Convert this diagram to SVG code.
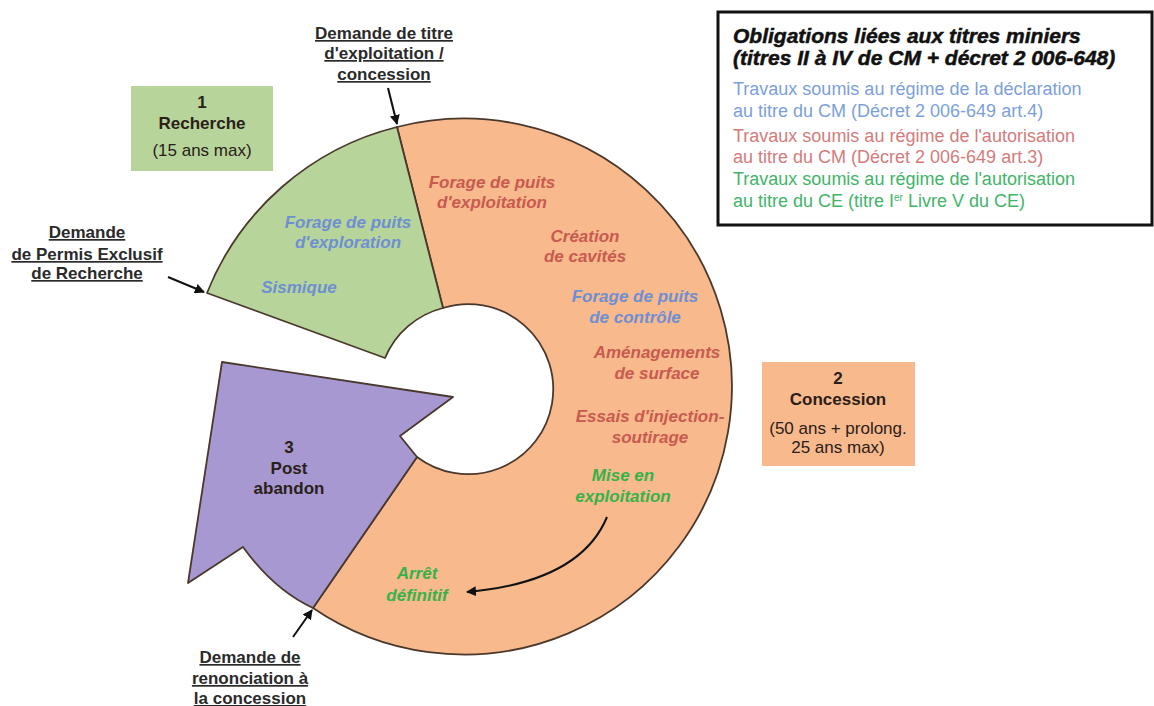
<svg xmlns="http://www.w3.org/2000/svg" width="1154" height="706" viewBox="0 0 1154 706">
<defs>
<marker id="ah" viewBox="0 0 10 10" refX="9" refY="5" markerWidth="5" markerHeight="5" orient="auto-start-reverse" markerUnits="strokeWidth">
<path d="M0,0 L10,5 L0,10 z" fill="#111"/>
</marker>
<style>
.shape{stroke:#4a382c;stroke-width:1.8;stroke-linejoin:round}
.lbl{font-family:"Liberation Sans",Arial,sans-serif;font-size:17px;font-weight:bold;fill:#2a2a2a;text-anchor:middle;text-decoration:underline}
.box{font-family:"Liberation Sans",Arial,sans-serif;font-size:17px;font-weight:bold;fill:#2a2018;text-anchor:middle}
.boxr{font-weight:normal}
.ring{font-family:"Liberation Sans",Arial,sans-serif;font-size:17px;font-weight:bold;font-style:italic;text-anchor:middle}
.blue{fill:#6e8fd2}
.red{fill:#c85a50}
.green{fill:#36b24a}
.lt{font-family:"Liberation Sans",Arial,sans-serif;font-size:21px;font-weight:bold;font-style:italic;fill:#111;stroke:#111;stroke-width:0.5}
.lb{font-family:"Liberation Sans",Arial,sans-serif;font-size:18px}
.conn{stroke:#111;stroke-width:2;fill:none;marker-end:url(#ah)}
</style>
</defs>
<rect width="1154" height="706" fill="#fff"/>

<g id="legend">
<rect x="718" y="12" width="434" height="213" fill="#fff" stroke="#111" stroke-width="3"/>
<text class="lt" x="733" y="43">Obligations liées aux titres miniers</text>
<text class="lt" x="733" y="65">(titres II à IV de CM + décret 2 006-648)</text>
<text class="lb" x="733" y="95" fill="#7c9fdb">Travaux soumis au régime de la déclaration</text>
<text class="lb" x="733" y="117" fill="#7c9fdb">au titre du CM (Décret 2 006-649 art.4)</text>
<text class="lb" x="733" y="142" fill="#d47b7b">Travaux soumis au régime de l'autorisation</text>
<text class="lb" x="733" y="163" fill="#d47b7b">au titre du CM (Décret 2 006-649 art.3)</text>
<text class="lb" x="733" y="185" fill="#42b468">Travaux soumis au régime de l'autorisation</text>
<text class="lb" x="733" y="207" fill="#42b468">au titre du CE (titre I<tspan font-size="10" dy="-6">er</tspan><tspan dy="6"> Livre V du CE)</tspan></text>
</g>

<g id="phase-concession">
<path class="shape" fill="#f8b98c" d="M397,127 A268,268 0 1 1 313,608 L417,457 A85,85 0 1 0 443,308 Z"/>
</g>

<g id="phase-recherche">
<path class="shape" fill="#b7d49b" d="M397,127 L443,308 A86,86 0 0 0 385,358 L207,293 A276,276 0 0 1 397,127 Z"/>
</g>

<g id="phase-post-abandon">
<path class="shape" fill="#a898d2" d="M222,362 L453,397 L400,436 L417,457 L313,608 Q274,590 243,547 L188,583 Z"/>
<text class="box" x="289" y="453">3</text>
<text class="box" x="289" y="474">Post</text>
<text class="box" x="289" y="494">abandon</text>
</g>

<g id="box-recherche">
<rect x="131" y="86" width="142" height="85" fill="#b7d49b"/>
<text class="box" x="202" y="108">1</text>
<text class="box" x="202" y="129">Recherche</text>
<text class="box boxr" x="202" y="156">(15 ans max)</text>
</g>

<g id="box-concession">
<rect x="762" y="362" width="153" height="104" fill="#f8b98c"/>
<text class="box" x="838" y="384">2</text>
<text class="box" x="838" y="405">Concession</text>
<text class="box boxr" x="838" y="434">(50 ans + prolong.</text>
<text class="box boxr" x="838" y="453">25 ans max)</text>
</g>

<g id="works">
<text class="ring blue" x="348" y="228">Forage de puits</text>
<text class="ring blue" x="348" y="248">d'exploration</text>
<text class="ring blue" x="299" y="293">Sismique</text>
<text class="ring red" x="492" y="188">Forage de puits</text>
<text class="ring red" x="492" y="208">d'exploitation</text>
<text class="ring red" x="585" y="242">Création</text>
<text class="ring red" x="585" y="262">de cavités</text>
<text class="ring blue" x="635" y="302">Forage de puits</text>
<text class="ring blue" x="635" y="323">de contrôle</text>
<text class="ring red" x="657" y="358">Aménagements</text>
<text class="ring red" x="657" y="379">de surface</text>
<text class="ring red" x="650" y="422">Essais d'injection-</text>
<text class="ring red" x="650" y="443">soutirage</text>
<text class="ring green" x="623" y="481">Mise en</text>
<text class="ring green" x="623" y="502">exploitation</text>
<text class="ring green" x="417" y="579">Arrêt</text>
<text class="ring green" x="417" y="601">définitif</text>
</g>

<g id="label-titre">
<text class="lbl" x="384" y="39">Demande de titre</text>
<text class="lbl" x="384" y="59">d'exploitation /</text>
<text class="lbl" x="384" y="80">concession</text>
</g>
<g id="label-permis">
<text class="lbl" x="87" y="238">Demande</text>
<text class="lbl" x="87" y="260">de Permis Exclusif</text>
<text class="lbl" x="87" y="279">de Recherche</text>
</g>
<g id="label-renonciation">
<text class="lbl" x="250" y="663">Demande de</text>
<text class="lbl" x="250" y="684">renonciation à</text>
<text class="lbl" x="250" y="704">la concession</text>
</g>

<g id="connectors">
<line class="conn" x1="388" y1="88" x2="397" y2="124"/>
<line class="conn" x1="168" y1="277" x2="204" y2="292"/>
<line class="conn" x1="293" y1="637" x2="312" y2="610"/>
<path class="conn" d="M607,517 Q580,582 467,592"/>
</g>
</svg>
